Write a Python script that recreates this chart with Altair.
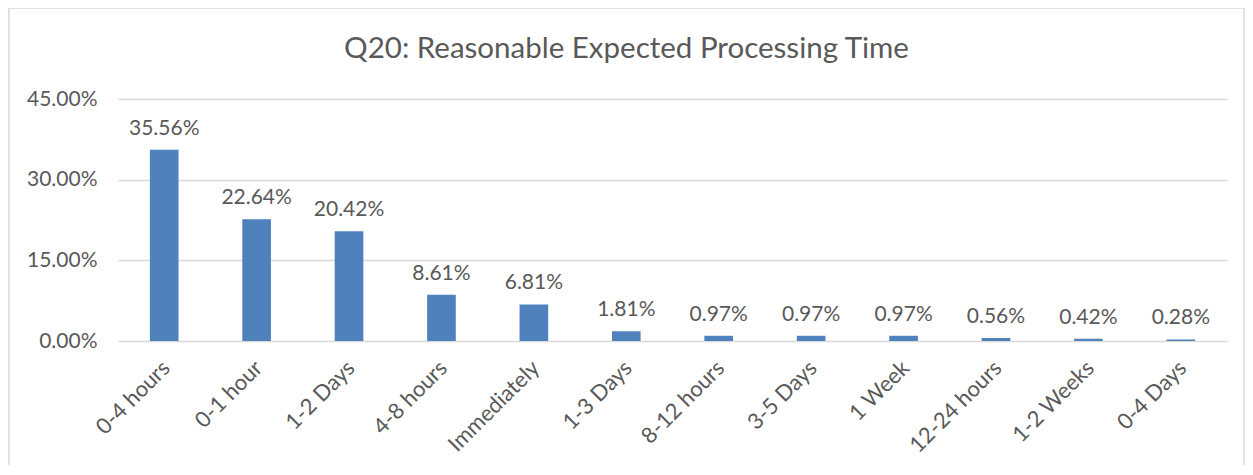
import altair as alt
import pandas as pd

categories = ["0-4 hours", "0-1 hour", "1-2 Days", "4-8 hours", "Immediately", "1-3 Days",
              "8-12 hours", "3-5 Days", "1 Week", "12-24 hours", "1-2 Weeks", "0-4 Days"]
values = [35.56, 22.64, 20.42, 8.61, 6.81, 1.81, 0.97, 0.97, 0.97, 0.56, 0.42, 0.28]
y_ticks = [0, 0.15, 0.30, 0.45]

df = pd.DataFrame({"cat": categories, "val": [v / 100 for v in values]})

FONT = "Lato"
TXT = "#595959"
W, H = 1109, 242

x = alt.X("cat:N", sort=categories, title=None,
          scale=alt.Scale(paddingInner=0.69, paddingOuter=0.345),
          axis=alt.Axis(labelAngle=-45, labelAlign="right", labelBaseline="top",
                        labelFontSize=22, labelColor=TXT, labelFont=FONT,
                        ticks=False, domain=False, labelPadding=16, labelOffset=-5))
y = alt.Y("val:Q", title=None,
          scale=alt.Scale(domain=[0, 0.45]),
          axis=alt.Axis(values=y_ticks, format=".2%", labelFontSize=21, labelColor=TXT,
                        labelFont=FONT, ticks=False, domain=False, labelPadding=21,
                        gridColor="#D9D9D9", gridWidth=1.5))

border = alt.Chart(pd.DataFrame({"a": [0]})).mark_rect(
    fill=None, stroke="#D9D9D9", strokeWidth=1.5
).encode(x=alt.value(-109), x2=alt.value(1126), y=alt.value(-91), y2=alt.value(400))

bars = alt.Chart(df).mark_bar(color="#4F81BD").encode(x=x, y=y)
labels = alt.Chart(df).mark_text(baseline="bottom", dy=-11, fontSize=21, color=TXT, font=FONT).encode(
    x=alt.X("cat:N", sort=categories), y="val:Q", text=alt.Text("val:Q", format=".2%"))

chart = alt.layer(border, bars, labels).properties(
    width=W, height=H,
    background="white",
    title=alt.TitleParams("Q20: Reasonable Expected Processing Time", fontSize=29.5, font=FONT,
                          color=TXT, fontWeight="normal", anchor="middle", frame="bounds",
                          offset=0, dy=57),
    padding={"left": 110, "top": 91, "right": 18, "bottom": 124},
    autosize=alt.AutoSizeParams(type="none"),
).configure_view(strokeWidth=0)

chart.save("out.html", embed_options={"renderer": "svg", "actions": False})
